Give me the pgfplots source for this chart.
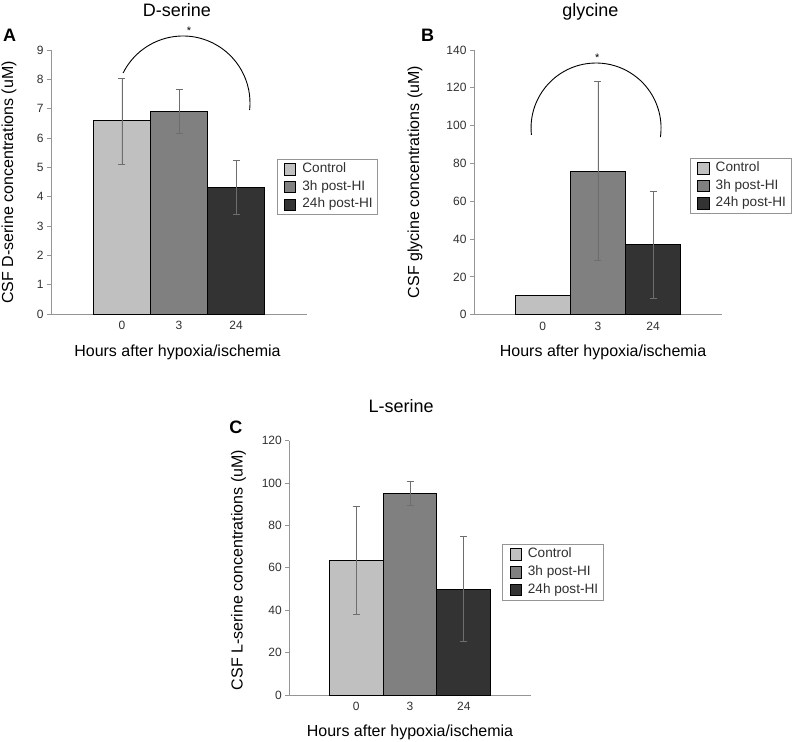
\documentclass[border=0pt]{standalone}
\usepackage{fontspec}
\setmainfont{Liberation Sans}
\usepackage{pgfplots}
\pgfplotsset{compat=1.18}

\definecolor{cctrl}{HTML}{C0C0C0}
\definecolor{cthree}{HTML}{808080}
\definecolor{cfour}{HTML}{333333}
\definecolor{axgray}{HTML}{959595}
\definecolor{errgray}{HTML}{6E6E6E}
\definecolor{txtgray}{HTML}{303030}

\pgfplotsset{
  panel/.style={
    scale only axis,
    axis lines=left,
    axis line style={axgray, -, line width=0.8bp},
    xmin=-0.245, xmax=4.245, ymin=0,
    xtick={1,2,3}, xticklabels={0,3,24},
    xtick style={draw=none},
    ytick style={axgray, line width=0.8bp},
    tick align=outside, major tick length=4bp,
    /pgf/number format/assume math mode=true,
    ticklabel style={font=\fontsize{12bp}{14bp}\selectfont, text=txtgray},
    % the default title style already shifts by 6pt; cancel it
    title style={anchor=base, yshift=-6pt, font=\fontsize{18bp}{20bp}\selectfont},
    xlabel style={anchor=base, font=\fontsize{16bp}{18bp}\selectfont},
    ylabel style={anchor=center, font=\fontsize{16bp}{18bp}\selectfont},
    xlabel={Hours after hypoxia/ischemia},
    legend cell align=left,
    legend style={anchor=north west, draw=axgray, line width=0.8bp,
      font=\fontsize{13.6bp}{15bp}\selectfont, text=txtgray,
      inner xsep=3bp, inner ysep=2bp, row sep=1.5bp,
      nodes={inner sep=2bp, text height=9.4bp, text depth=2.8bp}},
    legend image code/.code={
      \path[draw=none, fill=none] (0bp,-1bp) rectangle (20.3bp,1bp);
      \draw[#1, line width=0.8bp] (4.3bp,-5.75bp) rectangle (15.8bp,5.75bp);},
  },
  hibar/.style={ybar, bar width=1, bar shift=0pt, draw=black,
    line width=0.8bp, fill=#1},
  witherr/.style={error bars/.cd, y dir=both, y explicit,
    error bar style={errgray, line width=0.7bp},
    error mark options={errgray, rotate=90, mark size=3.5bp, line width=0.7bp}},
}

\begin{document}
\begin{tikzpicture}

% ---- A: D-serine
\begin{axis}[panel, at={(51bp,-314bp)}, anchor=south west,
  width=256bp, height=264bp, ymax=9, ytick distance=1,
  title={D-serine}, title style={at={(0.492,1.126)}},
  xlabel style={at={(0.494,-0.162)}},
  ylabel={CSF D-serine concentrations (uM)},
  ylabel style={at={(-0.164,0.498)}},
  legend style={at={(0.8816,0.588)}}]
\addplot[hibar=cctrl, witherr] coordinates {(1,6.60) += (0,1.45) -= (0,1.50)};
\addlegendentry{Control}
\addplot[hibar=cthree, witherr] coordinates {(2,6.92) += (0,0.73) -= (0,0.75)};
\addlegendentry{3h post-HI}
\addplot[hibar=cfour, witherr] coordinates {(3,4.33) += (0,0.92) -= (0,0.93)};
\addlegendentry{24h post-HI}
\end{axis}

% ---- B: glycine
\begin{axis}[panel, at={(474bp,-314.7bp)}, anchor=south west,
  width=247.7bp, height=264.7bp, ymax=140, ytick distance=20,
  title={glycine}, title style={at={(0.4695,1.126)}},
  xlabel style={at={(0.521,-0.159)}},
  ylabel={CSF glycine concentrations (uM)},
  ylabel style={at={(-0.238,0.501)}},
  legend style={at={(0.872,0.593)}}]
\addplot[hibar=cctrl] coordinates {(1,10)};
\addlegendentry{Control}
\addplot[hibar=cthree, witherr] coordinates {(2,76) += (0,47.6) -= (0,47.4)};
\addlegendentry{3h post-HI}
\addplot[hibar=cfour, witherr] coordinates {(3,37.2) += (0,28.2) -= (0,28.5)};
\addlegendentry{24h post-HI}
\end{axis}

% ---- C: L-serine
\begin{axis}[panel, at={(289.3bp,-695bp)}, anchor=south west,
  width=241.4bp, height=254.3bp, ymax=120, ytick distance=20,
  title={L-serine}, title style={at={(0.463,1.109)}},
  xlabel style={at={(0.5,-0.164)}},
  ylabel={CSF L-serine concentrations (uM)},
  ylabel style={at={(-0.211,0.4915)}},
  legend style={at={(0.882,0.594)}}]
\addplot[hibar=cctrl, witherr] coordinates {(1,63.4) += (0,25.4) -= (0,25.4)};
\addlegendentry{Control}
\addplot[hibar=cthree, witherr] coordinates {(2,95.1) += (0,5.5) -= (0,5.6)};
\addlegendentry{3h post-HI}
\addplot[hibar=cfour, witherr] coordinates {(3,50) += (0,24.7) -= (0,24.9)};
\addlegendentry{24h post-HI}
\end{axis}

% panel letters
\node[font=\fontsize{18bp}{20bp}\selectfont\bfseries] at (9.5bp,-35.5bp) {A};
\node[font=\fontsize{18bp}{20bp}\selectfont\bfseries] at (427.5bp,-35bp) {B};
\node[font=\fontsize{18bp}{20bp}\selectfont\bfseries] at (235.8bp,-427bp) {C};

% significance arcs
\draw[line width=0.9bp] (123.1bp,-73bp) arc[start angle=153.4, end angle=-6, radius=67bp];
\node[font=\fontsize{11bp}{12bp}\selectfont] at (189bp,-31bp) {*};
\draw[line width=0.9bp] (531.4bp,-134.8bp) arc[start angle=186, end angle=-8, radius=65bp];
\node[font=\fontsize{11bp}{12bp}\selectfont] at (597.3bp,-57.5bp) {*};

\pgfresetboundingbox
\useasboundingbox (0bp,-742bp) rectangle (798bp,0bp);
\end{tikzpicture}
\end{document}
